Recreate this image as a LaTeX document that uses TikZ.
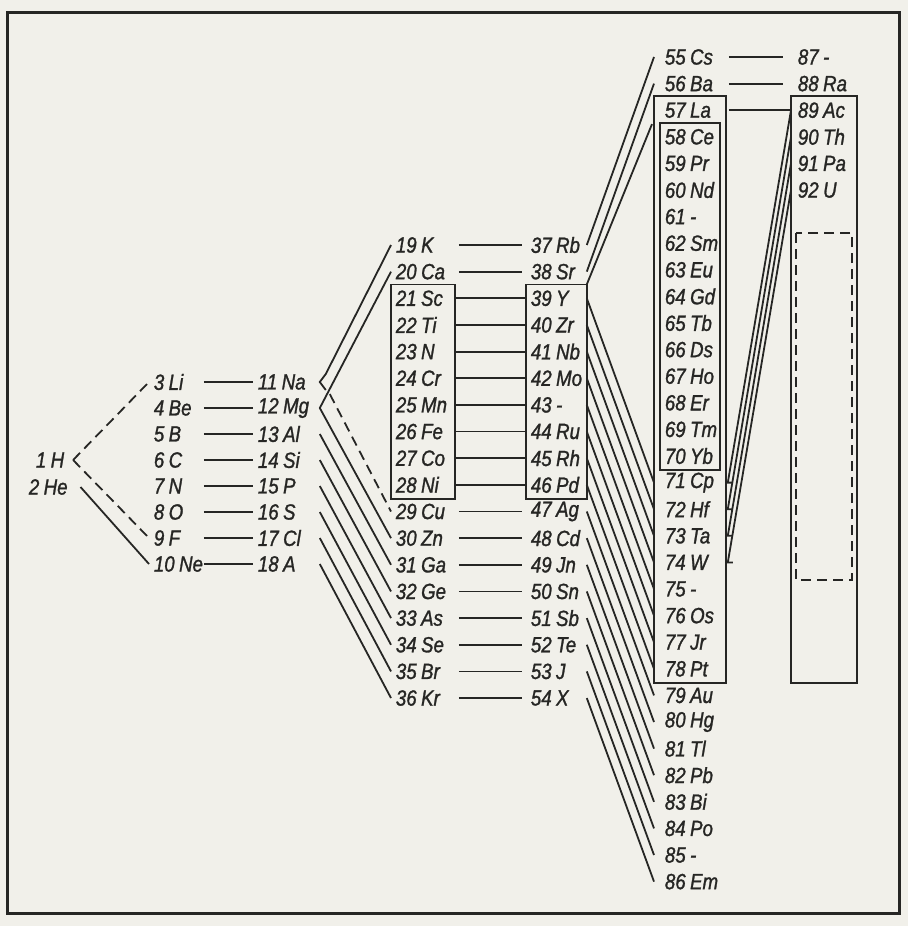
\documentclass[tikz,border=0pt]{standalone}
\usepackage{fontspec}
\setmainfont{Liberation Sans}[FakeStretch=0.85, FakeBold=1.2]
\usetikzlibrary{calc}
\definecolor{ink}{RGB}{38,38,36}
\definecolor{paper}{RGB}{241,240,234}
\newcommand\elemfont{\fontsize{11}{12}\selectfont\itshape}
\newcommand\el[2]{#1\kern.2em#2}
\tikzset{
  elem/.style={anchor=west, inner xsep=2pt, inner ysep=0pt, minimum height=13pt,
    align=left, text width=#1, font=\elemfont},
  brokenline/.style={dash pattern=on 5pt off 3pt},
  gap/.style={shorten <=2pt, shorten >=2pt},
}

\begin{document}
\begin{tikzpicture}[x=0.5pt, y=-0.5pt, line width=0.9pt, color=ink]
\fill[paper] (0,0) rectangle (908,926);
\useasboundingbox (0,0) rectangle (908,926);
\draw[line width=1.5pt] (7,12) rectangle (899,913);

\node[anchor=west, inner xsep=2pt, font=\elemfont] (e1) at (31,460) {\el{1}{H}};
\node[anchor=west, inner xsep=2pt, font=\elemfont] (e2) at (24,487) {\el{2}{He}};
\foreach \n/\s in {3/Li,4/Be,5/B,6/C,7/N,8/O,9/F,10/Ne}
  \node[elem=22.5pt] (e\n) at (149,{382+26*(\n-3)}) {\el{\n}{\s}};
\foreach \n/\s in {11/Na,12/Mg,13/Al,14/Si,15/P,16/S,17/Cl,18/A}
  \node[elem=28.5pt] (e\n) at (253,{382+26*(\n-11)}) {\el{\n}{\s}};
\foreach \n/\s in {19/K,20/Ca,21/Sc,22/Ti,23/N,24/Cr,25/Mn,26/Fe,27/Co,28/Ni,
    29/Cu,30/Zn,31/Ga,32/Ge,33/As,34/Se,35/Br,36/Kr}
  \node[elem=27pt] (e\n) at (391,{245+26.65*(\n-19)}) {\el{\n}{\s}};
\foreach \n/\s in {37/Rb,38/Sr,39/Y,40/Zr,41/Nb,42/Mo,43/-,44/Ru,45/Rh,46/Pd,
    47/Ag,48/Cd,49/Jn,50/Sn,51/Sb,52/Te,53/J,54/X}
  \node[elem=25.5pt] (e\n) at (526,{245+26.65*(\n-37)}) {\el{\n}{\s}};
\foreach \n/\s in {55/Cs,56/Ba,57/La,58/Ce,59/Pr,60/Nd,61/-,62/Sm,63/Eu,64/Gd,
    65/Tb,66/Ds,67/Ho,68/Er,69/Tm,70/Yb,71/Cp,72/Hf,73/Ta,74/W,75/-,76/Os,
    77/Jr,78/Pt,79/Au,80/Hg,81/Tl,82/Pb,83/Bi,84/Po,85/-,86/Em}
  \node[elem=25pt, inner xsep=5pt] (e\n) at (654,{57+26.6*(\n-55)}) {\el{\n}{\s}};
\foreach \n/\s in {87/-,88/Ra,89/Ac,90/Th,91/Pa,92/U}
  \node[elem=26pt, inner xsep=3pt] (e\n) at (791,{57+26.6*(\n-87)}) {\el{\n}{\s}};

\draw (e21.north west) rectangle (e28.south east);
\draw (e39.north west) rectangle (e46.south east);
\draw (e57.north west) rectangle (e78.south east);
\draw ([xshift=3pt]e58.north west) rectangle ([xshift=-3pt]e70.south east);
\draw (e89.north west) rectangle (e89.east |- e78.south);
\draw[brokenline] (796,233) rectangle (852,580);

\coordinate (hv) at ([xshift=2pt]e1.east);
\draw[brokenline] (hv) -- (e3.west);
\draw[brokenline] (hv) -- (e9.west);
\draw ([xshift=4pt]e2.east) -- (e10.west);

\foreach \n [evaluate=\n as \m using int(\n+8)] in {3,...,10}
  \draw (e\n.east) -- (e\m.west);

\draw (e19.west) -- ([shift={(6,-8)}]e11.east) -- (e11.east) -- ++(6,8);
\draw (e20.west) -- (e12.east) -- (e30.west);
\draw[brokenline] ([xshift=5pt]e12.north east) -- (e29.west);
\foreach \n [evaluate=\n as \m using int(\n+18)] in {13,...,18}
  \draw (e\n.east) -- (e\m.west);

\foreach \n [evaluate=\n as \m using int(\n+18)] in {19,20,29,30,...,36}
  \draw[gap] (e\n.east) -- (e\m.west);
\foreach \n [evaluate=\n as \m using int(\n+18)] in {21,...,28}
  \draw (e\n.east) -- (e\m.west);

\draw (e37.east) -- (e55.west);
\draw (e38.east) -- (e56.west);
\draw (e39.north east) -- ([xshift=-1pt]e57.south west);
\foreach \n [evaluate=\n as \m using int(\n+32)] in {39,...,54}
  \draw (e\n.east) -- (e\m.west);

\draw[shorten <=1.5pt, shorten >=4pt] (e55.east) -- (e87.west);
\draw[shorten <=1.5pt, shorten >=4pt] (e56.east) -- (e88.west);
\draw[shorten <=1.5pt] (e57.east) -- (e89.west);
\foreach \n [evaluate=\n as \m using int(\n-18)] in {89,...,92}
  \draw (e\n.west) -- ([xshift=1pt]e\m.east) -- ++(5,0);
\end{tikzpicture}
\end{document}
